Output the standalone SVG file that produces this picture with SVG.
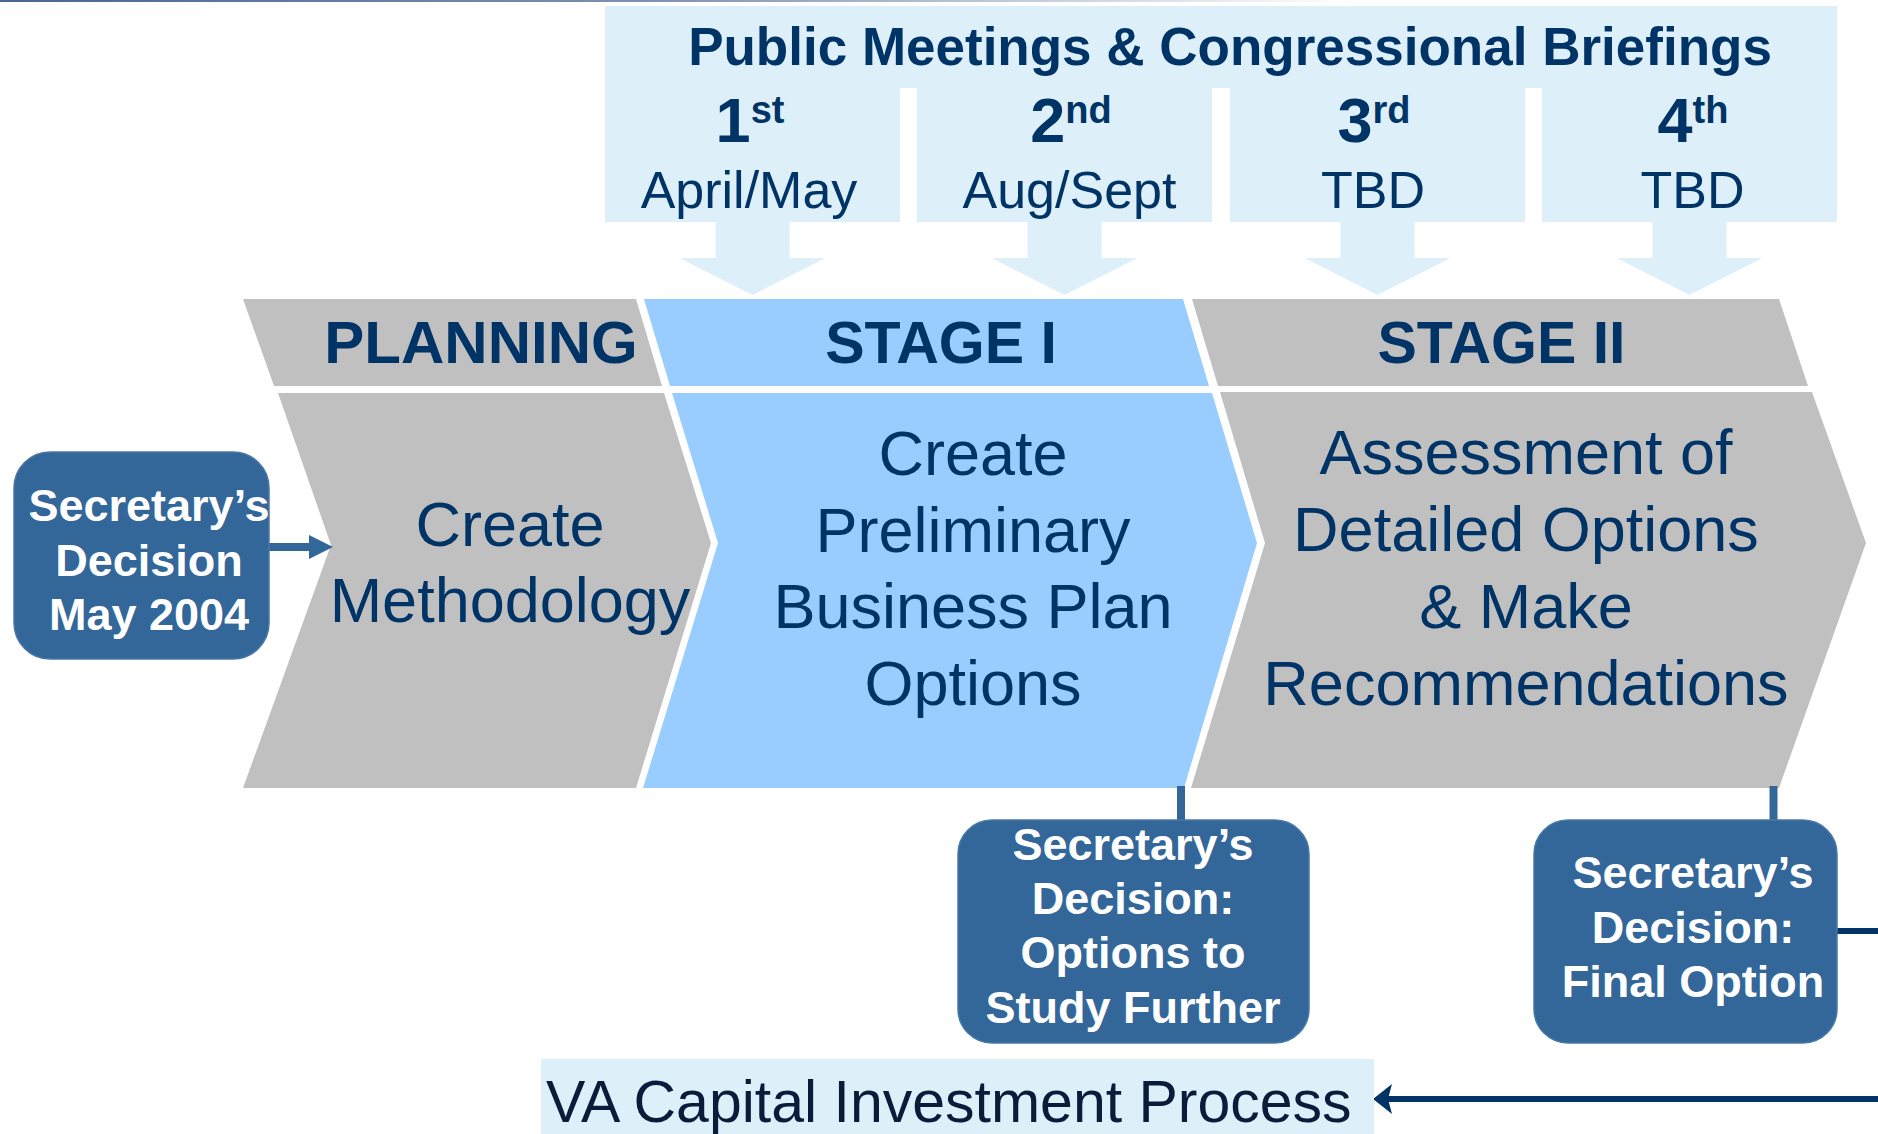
<svg xmlns="http://www.w3.org/2000/svg" width="1878" height="1134" viewBox="0 0 1878 1134">
<defs>
<linearGradient id="topline" x1="0" y1="0" x2="1" y2="0">
<stop offset="0" stop-color="#4a6590"/>
<stop offset="0.35" stop-color="#7f93b0"/>
<stop offset="0.72" stop-color="#ffffff"/>
</linearGradient>
<marker id="headBlue" markerUnits="userSpaceOnUse" viewBox="0 0 24 24" markerWidth="24" markerHeight="24" refX="3" refY="12" orient="auto">
<path d="M0,0 L24,12 L0,24 z" fill="#336699"/>
</marker>
<marker id="headNavy" markerUnits="userSpaceOnUse" viewBox="0 0 19 30" markerWidth="19" markerHeight="30" refX="4" refY="15" orient="auto">
<path d="M0,0 L19,15 L0,30 L4,15 z" fill="#003366"/>
</marker>
</defs>
<style>
.lb{fill:#ddf0fa}
.gray{fill:#c0c0c0}
.blue{fill:#99ccff}
.dec{fill:#336699;stroke:#4a78a6;stroke-width:1.5}
.t{font-family:"Liberation Sans",Arial,Helvetica,sans-serif;fill:#003366}
.title{font-size:53px;font-weight:bold;text-anchor:middle}
.ord{font-size:63px;font-weight:bold;text-anchor:middle}
.sup{font-size:38px}
.mon{font-size:52px;text-anchor:middle}
.band{font-size:59px;font-weight:bold;text-anchor:middle}
.main{font-size:63px;text-anchor:middle}
.dt{font-family:"Liberation Sans",Arial,Helvetica,sans-serif;fill:#ffffff;font-size:45px;font-weight:bold;text-anchor:middle}
.va{font-family:"Liberation Sans",Arial,Helvetica,sans-serif;fill:#0a1c3a;font-size:59px}
.c1{stroke:#336699;stroke-width:8;fill:none}
.c2{stroke:#003366;stroke-width:6;fill:none}
</style>
<rect x="0" y="0" width="1878" height="1134" fill="#ffffff"/>
<rect x="0" y="0" width="1878" height="2" fill="url(#topline)"/>

<g id="meetings">
<rect class="lb" x="605" y="6" width="1232" height="82"/>
<text class="t title" x="1230" y="65">Public Meetings &amp; Congressional Briefings</text>
</g>
<g id="meeting1">
<rect class="lb" x="605" y="80" width="295" height="142"/>
<polygon class="lb" points="715.5,220 789.5,220 789.5,258 825.5,258 752.5,295 679.5,258 715.5,258"/>
<text class="t ord" x="750" y="142">1<tspan class="sup" dy="-19">st</tspan></text>
<text class="t mon" x="749" y="208">April/May</text>
</g>
<g id="meeting2">
<rect class="lb" x="917" y="80" width="295" height="142"/>
<polygon class="lb" points="1027.5,220 1101.5,220 1101.5,258 1137.5,258 1064.5,295 991.5,258 1027.5,258"/>
<text class="t ord" x="1071" y="142">2<tspan class="sup" dy="-19">nd</tspan></text>
<text class="t mon" x="1069.5" y="208">Aug/Sept</text>
</g>
<g id="meeting3">
<rect class="lb" x="1230" y="80" width="295" height="142"/>
<polygon class="lb" points="1340.5,220 1414.5,220 1414.5,258 1450.5,258 1377.5,295 1304.5,258 1340.5,258"/>
<text class="t ord" x="1374" y="142">3<tspan class="sup" dy="-19">rd</tspan></text>
<text class="t mon" x="1373" y="208">TBD</text>
</g>
<g id="meeting4">
<rect class="lb" x="1542" y="80" width="295" height="142"/>
<polygon class="lb" points="1652.5,220 1726.5,220 1726.5,258 1762.5,258 1689.5,295 1616.5,258 1652.5,258"/>
<text class="t ord" x="1693" y="142">4<tspan class="sup" dy="-19">th</tspan></text>
<text class="t mon" x="1692.5" y="208">TBD</text>
</g>

<g id="planning">
<polygon class="gray" points="243,299 636,299 662,386 274,386"/>
<text class="t band" x="481" y="363" style="font-size:60px">PLANNING</text>
<polygon class="gray" points="278,393 664,393 711,543 636,788 243,788 331,545"/>
<text class="t main" x="510" y="546">Create</text>
<text class="t main" x="510" y="622">Methodology</text>
</g>
<g id="stage1">
<polygon class="blue" points="644,299 1183,299 1209,386 670,386"/>
<text class="t band" x="941" y="363">STAGE I</text>
<polygon class="blue" points="672,393 1212,393 1257,543 1184,788 643,788 718,543"/>
<text class="t main" x="973" y="475">Create</text>
<text class="t main" x="973" y="552">Preliminary</text>
<text class="t main" x="973" y="628">Business Plan</text>
<text class="t main" x="973" y="705">Options</text>
</g>
<g id="stage2">
<polygon class="gray" points="1192,299 1779,299 1808,386 1218,386"/>
<text class="t band" x="1501.5" y="363">STAGE II</text>
<polygon class="gray" points="1220,392 1812,392 1866,543 1779,788 1191,788 1265,543"/>
<text class="t main" x="1526" y="474">Assessment of</text>
<text class="t main" x="1526" y="551">Detailed Options</text>
<text class="t main" x="1526" y="628">&amp; Make</text>
<text class="t main" x="1526" y="705">Recommendations</text>
</g>

<g id="connectors">
<line class="c1" x1="268" y1="547" x2="312" y2="547" marker-end="url(#headBlue)"/>
<line class="c1" x1="1181" y1="786" x2="1181" y2="822"/>
<line class="c1" x1="1773.5" y1="786" x2="1773.5" y2="822"/>
<line class="c2" x1="1836" y1="931" x2="1880" y2="931"/>
<line class="c2" x1="1880" y1="1099" x2="1388" y2="1099" marker-end="url(#headNavy)"/>
</g>

<g id="decision1">
<rect class="dec" x="14" y="452" width="255" height="207" rx="36" ry="36"/>
<text class="dt" x="149" y="521">Secretary’s</text>
<text class="dt" x="149" y="576">Decision</text>
<text class="dt" x="149" y="630">May 2004</text>
</g>
<g id="decision2">
<rect class="dec" x="958" y="820" width="351" height="223" rx="34" ry="34"/>
<text class="dt" x="1133" y="860">Secretary’s</text>
<text class="dt" x="1133" y="914">Decision:</text>
<text class="dt" x="1133" y="968">Options to</text>
<text class="dt" x="1133" y="1023">Study Further</text>
</g>
<g id="decision3">
<rect class="dec" x="1534" y="820" width="303" height="223" rx="34" ry="34"/>
<text class="dt" x="1693" y="888">Secretary’s</text>
<text class="dt" x="1693" y="943">Decision:</text>
<text class="dt" x="1693" y="997">Final Option</text>
</g>
<g id="va">
<rect class="lb" x="541" y="1059" width="833" height="80"/>
<text class="va" x="546" y="1122">VA Capital Investment Process</text>
</g>
</svg>
